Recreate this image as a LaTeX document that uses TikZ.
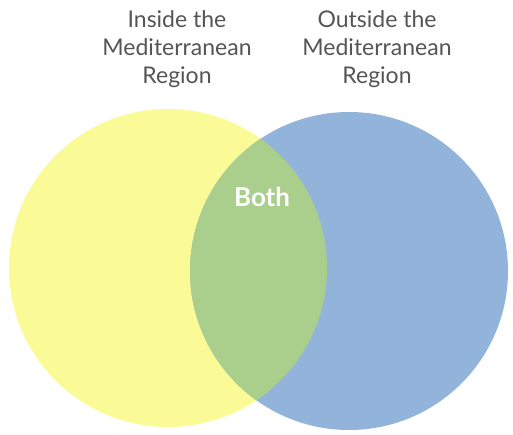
\documentclass[tikz,border=0pt]{standalone}
\usepackage{fontspec}
\setmainfont{Lato}
\usepackage{tikz}
\usetikzlibrary{positioning}
\definecolor{insidecol}{RGB}{250,250,150}
\definecolor{outsidecol}{RGB}{146,180,218}
\definecolor{bothcol}{RGB}{170,206,140}
\definecolor{labelcol}{RGB}{85,85,85}

\begin{document}
\begin{tikzpicture}[x=1pt, y=-1pt,
    setlabel/.style={align=center, text=labelcol, font=\fontsize{23}{28}\selectfont},
    setcircle/.style={circle, minimum size=318pt, inner sep=0pt}
  ]
  \useasboundingbox (0,0) rectangle (513,435);
  % the two sets
  \node[setcircle, fill=insidecol]  (inside)  at (168,268) {};
  \node[setcircle, fill=outsidecol] (outside) at (349,271) {};
  \begin{scope}
    \clip (168,268) circle (159pt);
    \fill[bothcol] (349,271) circle (159pt);
  \end{scope}
  \node[text=white, font=\fontsize{26}{30}\selectfont\bfseries] (both) at (262,197) {Both};
  % headings
  \node[setlabel] (insidelbl)  at (177,49) {Inside the\\Mediterranean\\Region};
  \node[setlabel] (outsidelbl) at (377,49) {Outside the\\Mediterranean\\Region};
\end{tikzpicture}
\end{document}
